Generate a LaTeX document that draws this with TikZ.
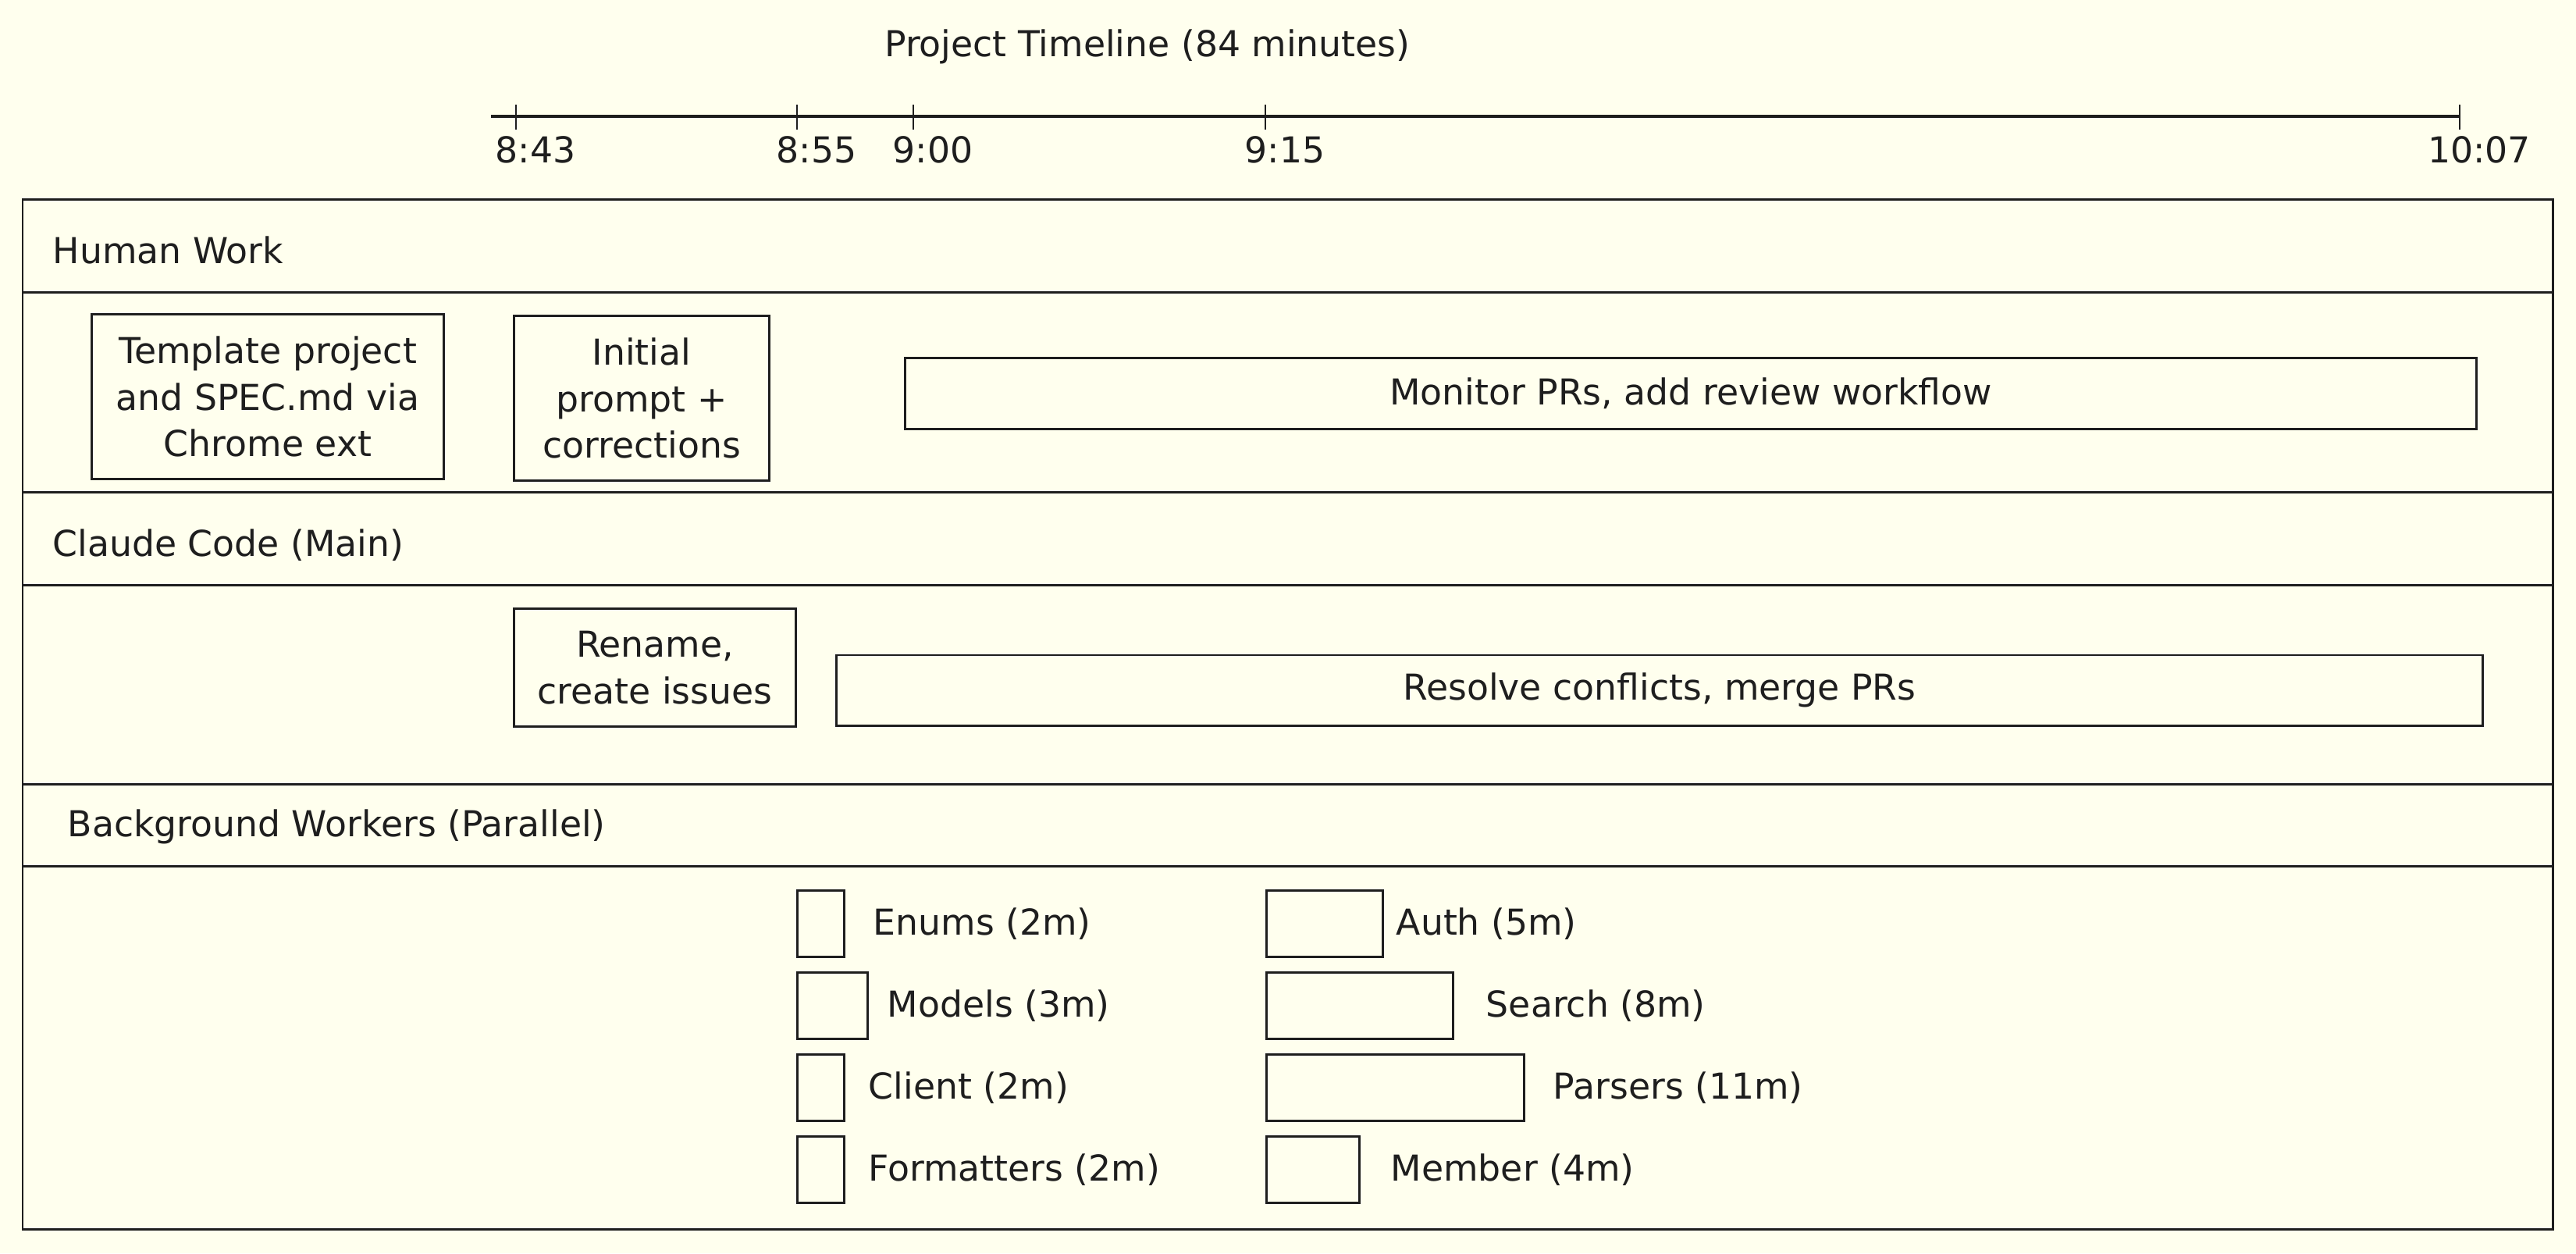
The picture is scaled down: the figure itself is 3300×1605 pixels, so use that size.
\documentclass[tikz,border=0pt]{standalone}
\usepackage{fontspec}
\setmainfont{DejaVu Sans}
\usetikzlibrary{positioning}

\definecolor{paper}{HTML}{FFFFEE}
\definecolor{ink}{HTML}{1E1E1E}

\begin{document}
\begin{tikzpicture}[x=0.01cm, y=-0.01cm, font=\fontsize{13}{17}\selectfont, text=ink]
		\tikzstyle{task}=[draw=ink, line width=0.85pt, fill=paper, align=center, inner sep=0pt]
		\tikzstyle{worker}=[draw=ink, line width=0.85pt, minimum height=0.85cm, inner sep=0pt, anchor=north west]
		\tikzstyle{wlabel}=[inner sep=0pt, anchor=west]
		\tikzstyle{lanetitle}=[inner sep=0pt, anchor=base west]
		\tikzstyle{timelabel}=[inner sep=0pt, anchor=base]
		\tikzstyle{tickline}=[draw=ink, line width=0.6pt]
		
		\fill[paper] (0,0) rectangle (3300,1605);
		\useasboundingbox (0,0) rectangle (3300,1605);
		
		% timeline
		\node[timelabel] (title) at (1470,72) {Project Timeline (84 minutes)};
		\draw[ink, line width=1pt] (629,149) -- (3151,149);
		\draw[tickline] (661,134) -- (661,166);
		\draw[tickline] (1021,134) -- (1021,166);
		\draw[tickline] (1170,134) -- (1170,166);
		\draw[tickline] (1621,134) -- (1621,166);
		\draw[tickline] (3151,134) -- (3151,166);
		\node[timelabel] (t843) at (686,208) {8:43};
		\node[timelabel] (t855) at (1046,208) {8:55};
		\node[timelabel] (t900) at (1195,208) {9:00};
		\node[timelabel] (t915) at (1646,208) {9:15};
		\node[timelabel] (t1007) at (3176,208) {10:07};
		
		% lanes
		\draw[ink, line width=0.85pt] (29,255) rectangle (3270,1574);
		\draw[ink, line width=0.85pt] (29,374) -- (3270,374);
		\draw[ink, line width=0.85pt] (29,630) -- (3270,630);
		\draw[ink, line width=0.85pt] (29,749) -- (3270,749);
		\draw[ink, line width=0.85pt] (29,1004) -- (3270,1004);
		\draw[ink, line width=0.85pt] (29,1109) -- (3270,1109);
		\node[lanetitle] (human) at (67,337) {Human Work};
		\node[lanetitle] (claude) at (67,712) {Claude Code (Main)};
		\node[lanetitle] (bg) at (86,1071) {Background Workers (Parallel)};
		
		% human work
		\node[task, minimum width=4.50cm, minimum height=2.11cm] at (343,508) (tmpl) {Template project\\and SPEC.md via\\Chrome ext};
		\node[task, minimum width=3.27cm, minimum height=2.10cm] at (822,510) (init) {Initial\\prompt +\\corrections};
		\node[task, minimum width=20.12cm, minimum height=0.90cm] at (2166,504) (mon) {Monitor PRs, add review workflow};
		
		% claude code
		\node[task, minimum width=3.61cm, minimum height=1.50cm] at (839,855) (ren) {Rename,\\create issues};
		\node[task, minimum width=21.08cm, minimum height=0.90cm] at (2126,884) (res) {Resolve conflicts, merge PRs};
		
		% background workers
		\node[worker, minimum width=0.60cm] at (1020,1139) (enums) {};
		\node[worker, minimum width=0.90cm] at (1020,1244) (models) {};
		\node[worker, minimum width=0.60cm] at (1020,1349) (client) {};
		\node[worker, minimum width=0.60cm] at (1020,1454) (fmt) {};
		\node[worker, minimum width=1.49cm] at (1621,1139) (auth) {};
		\node[worker, minimum width=2.39cm] at (1621,1244) (search) {};
		\node[worker, minimum width=3.30cm] at (1621,1349) (parsers) {};
		\node[worker, minimum width=1.19cm] at (1621,1454) (member) {};
		
		\node[wlabel, right=0.35cm of enums] (enumsl) {Enums (2m)};
		\node[wlabel, right=0.23cm of models] (modelsl) {Models (3m)};
		\node[wlabel, right=0.29cm of client] (clientl) {Client (2m)};
		\node[wlabel, right=0.29cm of fmt] (fmtl) {Formatters (2m)};
		\node[wlabel, right=0.15cm of auth] (authl) {Auth (5m)};
		\node[wlabel, right=0.40cm of search] (searchl) {Search (8m)};
		\node[wlabel, right=0.35cm of parsers] (parsersl) {Parsers (11m)};
		\node[wlabel, right=0.38cm of member] (memberl) {Member (4m)};
	\end{tikzpicture}
\end{document}
